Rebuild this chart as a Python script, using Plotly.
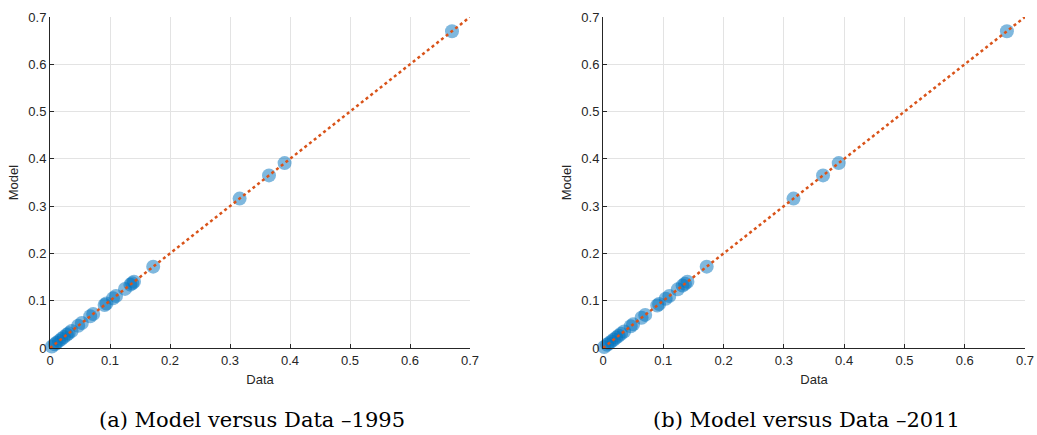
import plotly.graph_objects as go

# Data / Model pairs
data_1995 = [0.003, 0.008, 0.011, 0.015, 0.019, 0.023, 0.028, 0.031, 0.036, 0.047, 0.053,
             0.067, 0.072, 0.091, 0.094, 0.105, 0.110, 0.125, 0.134, 0.137, 0.140,
             0.172, 0.316, 0.365, 0.391, 0.670]
model_1995 = [0.003, 0.008, 0.011, 0.015, 0.019, 0.023, 0.028, 0.031, 0.036, 0.047, 0.053,
              0.067, 0.072, 0.091, 0.094, 0.105, 0.110, 0.125, 0.134, 0.137, 0.140,
              0.172, 0.316, 0.365, 0.391, 0.670]
data_2011 = [0.002, 0.007, 0.010, 0.014, 0.018, 0.022, 0.026, 0.030, 0.035, 0.046, 0.050,
             0.064, 0.070, 0.090, 0.093, 0.104, 0.110, 0.124, 0.132, 0.136, 0.140,
             0.172, 0.316, 0.365, 0.391, 0.670]
model_2011 = [0.002, 0.007, 0.010, 0.014, 0.018, 0.022, 0.026, 0.030, 0.035, 0.046, 0.050,
              0.064, 0.070, 0.090, 0.093, 0.104, 0.110, 0.124, 0.132, 0.136, 0.140,
              0.172, 0.316, 0.365, 0.391, 0.670]
diag = [0.0, 0.7]
tick_vals = [0, 0.1, 0.2, 0.3, 0.4, 0.5, 0.6, 0.7]
tick_text = ["0", "0.1", "0.2", "0.3", "0.4", "0.5", "0.6", "0.7"]
captions = ["(a) Model versus Data \u20131995", "(b) Model versus Data \u20132011"]

fig = go.Figure()
panels = [(data_1995, model_1995, "x", "y"), (data_2011, model_2011, "x2", "y2")]
for dx, my, xa, ya in panels:
    fig.add_trace(go.Scatter(x=dx, y=my, mode="markers", xaxis=xa, yaxis=ya,
                             marker=dict(size=14, color="rgba(0,114,189,0.5)",
                                         line=dict(width=0)),
                             showlegend=False, hoverinfo="skip", cliponaxis=False))
    fig.add_trace(go.Scatter(x=diag, y=diag, mode="lines", xaxis=xa, yaxis=ya,
                             line=dict(color="#D95319", width=2.5, dash="dot"),
                             showlegend=False, hoverinfo="skip"))

axis_common = dict(range=[0, 0.7], tickvals=tick_vals, ticktext=tick_text,
                   showgrid=True, gridcolor="#e3e3e3", gridwidth=1,
                   showline=True, linecolor="#262626", linewidth=1,
                   ticks="inside", ticklen=4, tickcolor="#262626",
                   tickfont=dict(family="Liberation Sans, Arial", size=13, color="#262626"),
                   zeroline=False, mirror=False, automargin=False)
title_font = dict(family="Liberation Sans, Arial", size=13, color="#262626")

fig.update_layout(
    width=1037, height=435,
    margin=dict(l=0, r=0, t=0, b=0),
    paper_bgcolor="white", plot_bgcolor="white",
    xaxis=dict(domain=[50/1037, 470/1037], anchor="y",
               title=dict(text="Data", font=title_font, standoff=8), **axis_common),
    yaxis=dict(domain=[87/435, 418/435], anchor="x",
               title=dict(text="Model", font=title_font, standoff=6), **axis_common),
    xaxis2=dict(domain=[603/1037, 1025/1037], anchor="y2",
                title=dict(text="Data", font=title_font, standoff=8), **axis_common),
    yaxis2=dict(domain=[87/435, 418/435], anchor="x2",
                title=dict(text="Model", font=title_font, standoff=6), **axis_common),
    annotations=[
        dict(text=captions[0], x=252/1037, y=(435-420)/435, xref="paper", yref="paper",
             showarrow=False, xanchor="center", yanchor="middle",
             font=dict(family="DejaVu Serif", size=21, color="black")),
        dict(text=captions[1], x=806/1037, y=(435-420)/435, xref="paper", yref="paper",
             showarrow=False, xanchor="center", yanchor="middle",
             font=dict(family="DejaVu Serif", size=21, color="black")),
    ],
)

fig.write_html("out.html")
